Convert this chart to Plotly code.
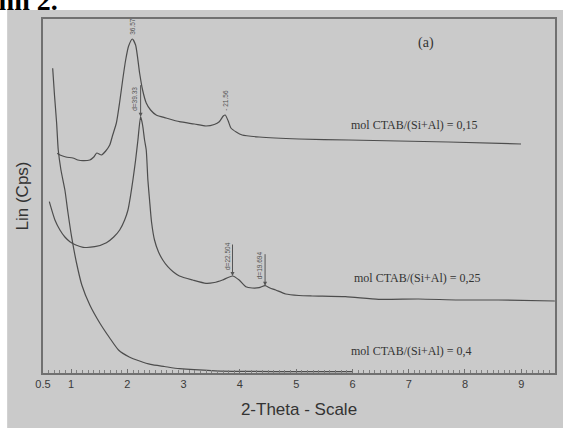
import plotly.graph_objects as go

# 2-theta (degrees) and intensity (arbitrary counts, offset per series)
x_015 = [0.753, 0.801, 0.907, 1.031, 1.119, 1.208, 1.332, 1.403, 1.456, 1.539, 1.615, 1.686,
         1.739, 1.804, 1.863, 1.916, 1.969, 2.022, 2.088, 2.146, 2.217, 2.270, 2.335, 2.412,
         2.512, 2.689, 2.925, 3.190, 3.397, 3.544, 3.633, 3.704, 3.739, 3.792, 3.840, 3.934,
         4.040, 4.341, 5.049, 5.934, 6.819, 7.704, 8.996]
y_015 = [219.7, 218, 216, 215, 213, 212.3, 213, 216, 220, 218, 222, 228,
         238, 250, 271, 293, 313, 327, 334, 328, 300, 283, 270, 263,
         258, 255, 251.3, 249, 247, 248.5, 251.3, 257, 258, 252, 245, 241,
         238, 236, 234, 233, 232, 231, 229]

x_025 = [0.612, 0.712, 0.801, 0.889, 0.978, 1.084, 1.213, 1.420, 1.627, 1.757, 1.863, 1.951,
         2.010, 2.058, 2.098, 2.146, 2.187, 2.235, 2.270, 2.305, 2.335, 2.364, 2.394, 2.429,
         2.482, 2.553, 2.629, 2.718, 2.818, 2.925, 3.160, 3.397, 3.544, 3.691, 3.868, 3.987,
         4.105, 4.217, 4.341, 4.447, 4.535, 4.636, 4.813, 5.049, 5.284, 5.875, 6.465, 7.173,
         7.881, 8.588, 9.597]
y_025 = [171.3, 153, 143, 136, 131.3, 128, 125.7, 126.3, 130.3, 136, 143, 153,
         163, 178, 193, 213, 233, 256.3, 248, 233, 223, 193, 173, 151,
         133, 121, 113, 106.3, 101, 97, 93, 89.7, 90.5, 93, 97, 93,
         86.3, 85, 85.3, 87.3, 85, 83, 79, 77.5, 77, 76.3, 73.7, 74,
         73, 73, 72]

x_04 = [0.672, 0.704, 0.742, 0.771, 0.819, 0.889, 0.942, 1.008, 1.096, 1.190, 1.332, 1.509,
        1.686, 1.842, 2.033, 2.217, 2.412, 2.659, 2.925, 3.562, 4.199, 5.000, 6.000]
y_04 = [304.7, 278, 250, 223, 203, 183, 161, 136.3, 110, 88, 68, 50,
        35, 23, 16, 12, 8.6, 6.5, 4.3, 2.2, 1.6, 1.4, 1.3]

series_labels = ["mol CTAB/(Si+Al) = 0,15", "mol CTAB/(Si+Al) = 0,25", "mol CTAB/(Si+Al) = 0,4"]
label_pos_x = [7.1, 7.15, 7.05]
label_pos_y = [239, 86, 13]

tick_vals = [0.5, 1, 2, 3, 4, 5, 6, 7, 8, 9]
tick_text = ["0.5", "1", "2", "3", "4", "5", "6", "7", "8", "9"]

# peak annotations: (x, y, text)
peaks_plain = [(2.088, 334, "36.57"), (3.739, 258, "- 21.56")]
peaks_arrow = [(2.235, 256.3, "d=39.33"), (3.868, 97, "d=22.504"), (4.447, 87.3, "d=19.694")]

LINE = "#4d4d4d"
BG = "#cacaca"

fig = go.Figure()
for xs, ys in [(x_015, y_015), (x_025, y_025), (x_04, y_04)]:
    fig.add_trace(go.Scatter(x=xs, y=ys, mode="lines", line=dict(color=LINE, width=1.2, shape="spline", smoothing=0.6),
                             showlegend=False, hoverinfo="skip"))

ann = []
for t, lx, ly in zip(series_labels, label_pos_x, label_pos_y):
    ann.append(dict(x=lx, y=ly, text=t, showarrow=False, xanchor="center", yanchor="bottom",
                    font=dict(family="Liberation Serif", size=12, color="#333333")))
ann.append(dict(x=7.3, y=330, text="(a)", showarrow=False,
                font=dict(family="Liberation Serif", size=14, color="#333333")))
for px, py, t in peaks_plain:
    ann.append(dict(x=px, y=py, text=t, showarrow=False, textangle=-90, yanchor="bottom",
                    yshift=2, font=dict(family="Liberation Sans", size=6.5, color="#555555")))
for px, py, t in peaks_arrow:
    ann.append(dict(x=px, y=py, text="", showarrow=True, ax=0, ay=-33, arrowhead=2, arrowsize=0.8,
                    arrowwidth=1, arrowcolor="#555555"))
    ann.append(dict(x=px, y=py, text=t, showarrow=False, textangle=-90, yanchor="bottom",
                    xanchor="right", xshift=0, yshift=4,
                    font=dict(family="Liberation Sans", size=6.5, color="#555555")))
# caption fragment at very top (cut off in the scan)
ann.append(dict(x=0.033, y=1.003, xref="paper", yref="paper", text="<b>Hình 2.</b>", showarrow=False,
                xanchor="right", yanchor="bottom",
                font=dict(family="Liberation Serif", size=28, color="#000000")))

fig.update_layout(
    width=563, height=428,
    margin=dict(l=43, r=6, t=19, b=55),
    paper_bgcolor="white", plot_bgcolor=BG,
    shapes=[dict(type="rect", xref="paper", yref="paper", x0=-0.070, x1=1.02, y0=-0.16, y1=1.0254,
                 fillcolor=BG, line=dict(width=0), layer="below")],
    annotations=ann,
    xaxis=dict(range=[0.5, 9.6], showgrid=False, zeroline=False, showline=True, mirror=True,
               linecolor="#707070", linewidth=1.5, ticks="inside", ticklen=4, tickcolor="#707070",
               tickvals=tick_vals, ticktext=tick_text,
               minor=dict(dtick=0.1, ticks="inside", ticklen=3, tickcolor="#808080"),
               tickfont=dict(family="Liberation Sans", size=11, color="#3a3a3a"),
               title=dict(text="2-Theta - Scale", standoff=14,
                          font=dict(family="Liberation Sans", size=17, color="#333333"))),
    yaxis=dict(range=[0, 354], showgrid=False, zeroline=False, showline=True, mirror=True,
               linecolor="#707070", linewidth=1.5, showticklabels=False, ticks="",
               title=dict(text="Lin (Cps)", standoff=8,
                          font=dict(family="Liberation Sans", size=17, color="#333333"))),
)

fig.write_html("out.html")
